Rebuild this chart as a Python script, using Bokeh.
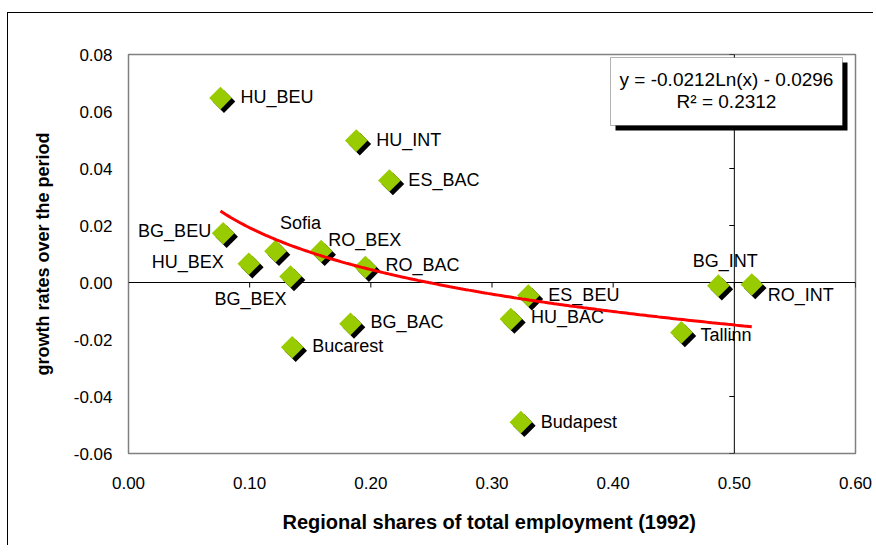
import numpy as np
from bokeh.plotting import figure
from bokeh.models import (ColumnDataSource, Span, BoxAnnotation, Label,
                          FixedTicker, NumeralTickFormatter, Range1d)
from bokeh.core.properties import value, field
from bokeh.embed import file_html
from bokeh.resources import INLINE

# ---------------- data ----------------
regions = ["HU_BEU", "HU_INT", "ES_BAC", "BG_BEU", "Sofia", "HU_BEX", "BG_BEX",
           "RO_BEX", "RO_BAC", "BG_BAC", "Bucarest", "ES_BEU", "HU_BAC",
           "Tallinn", "BG_INT", "RO_INT", "Budapest"]
emp_share_1992 = [0.0759, 0.1880, 0.2153, 0.0781, 0.1213, 0.0993, 0.1337,
                  0.1590, 0.1955, 0.1832, 0.1351, 0.3300, 0.3156,
                  0.4563, 0.4868, 0.5144, 0.3238]
growth_rate = [0.0647, 0.0498, 0.0358, 0.0173, 0.0110, 0.0066, 0.0021,
               0.0110, 0.0054, -0.0145, -0.0227, -0.0046, -0.0128,
               -0.0175, -0.0011, -0.0007, -0.0490]

# trend line coefficients shown on the chart: y = a*ln(x) + b
trend_a = -0.0212
trend_b = -0.0296
trend_text = "y = -0.0212Ln(x) - 0.0296\nR² = 0.2312"

x_ticks = [0.0, 0.1, 0.2, 0.3, 0.4, 0.5, 0.6]
y_ticks = [-0.06, -0.04, -0.02, 0.0, 0.02, 0.04, 0.06, 0.08]

# ---------------- layout constants ----------------
XMIN, XMAX = 0.0, 0.6
YMIN, YMAX = -0.06, 0.08
FW, FH = 727, 399
PXX = FW / (XMAX - XMIN)   # px per x unit
PXY = FH / (YMAX - YMIN)   # px per y unit
FONT = "Liberation Sans"

# label placement (style): align, dx, dy in px (dy positive = down)
label_style = {
    "HU_BEU": ("left", 20, -1), "HU_INT": ("left", 20, -1), "ES_BAC": ("left", 19, 0),
    "BG_BEU": ("right", -12, -2), "Sofia": ("center", 25, -28),
    "HU_BEX": ("right", -25, -2), "BG_BEX": ("center", -40, 22),
    "RO_BEX": ("left", 7, -11), "RO_BAC": ("left", 20, -2), "BG_BAC": ("left", 20, -2),
    "Bucarest": ("left", 20, -1), "ES_BEU": ("left", 20, -1), "HU_BAC": ("left", 20, -2),
    "Tallinn": ("left", 19, 3), "BG_INT": ("center", 7, -25), "RO_INT": ("left", 16, 11),
    "Budapest": ("left", 20, 0),
}

p = figure(frame_width=FW, frame_height=FH,
           x_range=Range1d(XMIN, XMAX), y_range=Range1d(YMIN, YMAX),
           output_backend="svg", toolbar_location=None,
           min_border_left=120, min_border_top=41, min_border_right=18,
           min_border_bottom=92, background_fill_color="white",
           border_fill_color="white")
p.margin = (12, 0, 0, 7)
p.styles = {"border-left": "1.5px solid black", "border-top": "1.5px solid black"}
p.grid.visible = False
p.outline_line_color = "#808080"
p.outline_line_width = 1.5

for ax in (p.xaxis[0], p.yaxis[0]):
    ax.axis_line_color = None
    ax.major_tick_line_color = None
    ax.minor_tick_line_color = None
    ax.major_tick_out = 0
    ax.major_tick_in = 0
    ax.minor_tick_out = 0
    ax.minor_tick_in = 0
    ax.major_label_text_font = FONT
    ax.major_label_text_font_size = "17px"
    ax.major_label_text_color = "black"
    ax.axis_label_text_font = FONT
    ax.axis_label_text_font_style = "bold"
    ax.axis_label_text_color = "black"
    ax.formatter = NumeralTickFormatter(format="0.00")

p.xaxis.ticker = FixedTicker(ticks=x_ticks)
p.yaxis.ticker = FixedTicker(ticks=y_ticks)
p.xaxis.major_label_standoff = 23
p.yaxis.major_label_standoff = 16
p.xaxis.axis_label = "Regional  shares of total employment (1992)"
p.yaxis.axis_label = "growth rates over the period"
p.xaxis.axis_label_text_font_size = "20px"
p.yaxis.axis_label_text_font_size = "18px"
p.xaxis.axis_label_standoff = 19
p.yaxis.axis_label_standoff = 18

# inner axes (cross at y=0 and x=0.5)
p.add_layout(Span(location=0.0, dimension="width", line_color="black",
                  line_width=1, level="underlay"))
p.add_layout(Span(location=0.5, dimension="height", line_color="black",
                  line_width=1, level="underlay"))
tick_len = 5
xt = [t for t in x_ticks if t > 0]
p.segment(x0=xt, y0=[0.0] * len(xt), x1=xt, y1=[-tick_len / PXY] * len(xt),
          line_color="black", line_width=1, level="underlay")
p.segment(x0=[0.5] * len(y_ticks), y0=y_ticks,
          x1=[0.5 - tick_len / PXX] * len(y_ticks), y1=y_ticks,
          line_color="black", line_width=1, level="underlay")

# markers with shadow
sh = 3.5
src = ColumnDataSource(dict(
    x=emp_share_1992, y=growth_rate,
    xs=[v + sh / PXX for v in emp_share_1992],
    ys=[v - sh / PXY for v in growth_rate],
    name=regions,
    al=[label_style[r][0] for r in regions],
    dx=[label_style[r][1] for r in regions],
    dy=[label_style[r][2] for r in regions],
))
p.scatter("xs", "ys", source=src, marker="square", size=16, angle=np.pi / 4,
          fill_color="black", line_color=None)
p.scatter("x", "y", source=src, marker="square", size=16, angle=np.pi / 4,
          fill_color="#99CC00", line_color=None)

p.text("x", "y", text="name", source=src, x_offset=field("dx"), y_offset=field("dy"),
       text_align=field("al"), text_baseline="middle", text_font=value(FONT),
       text_font_size="18px", text_color="black")

# logarithmic trend line from the coefficients on the chart
tx = np.linspace(min(emp_share_1992), max(emp_share_1992), 200)
ty = trend_a * np.log(tx) + trend_b
p.line(tx, ty, line_color="#FF0000", line_width=3)

# equation box with shadow
def px2x(px):
    return XMIN + (px - 128) / PXX

def px2y(py):
    return YMAX - (py - 54) / PXY

bl, br, bt, bb = px2x(610), px2x(842), px2y(57), px2y(125)
p.add_layout(BoxAnnotation(left=bl + 5 / PXX, right=br + 5 / PXX,
                           top=bt - 5 / PXY, bottom=bb - 5 / PXY,
                           fill_color="black", fill_alpha=1, line_color=None))
p.add_layout(BoxAnnotation(left=bl, right=br, top=bt, bottom=bb,
                           fill_color="white", fill_alpha=1, line_color="black",
                           line_width=1))
eq1, eq2 = trend_text.split("\n")
p.add_layout(Label(x=(bl + br) / 2, y=px2y(79), text=eq1, text_align="center",
                   text_baseline="middle", text_font=FONT, text_font_size="19px",
                   text_color="black"))
p.add_layout(Label(x=(bl + br) / 2, y=px2y(101), text=eq2, text_align="center",
                   text_baseline="middle", text_font=FONT, text_font_size="19px",
                   text_color="black"))

open("out.html", "w").write(file_html(p, INLINE))
